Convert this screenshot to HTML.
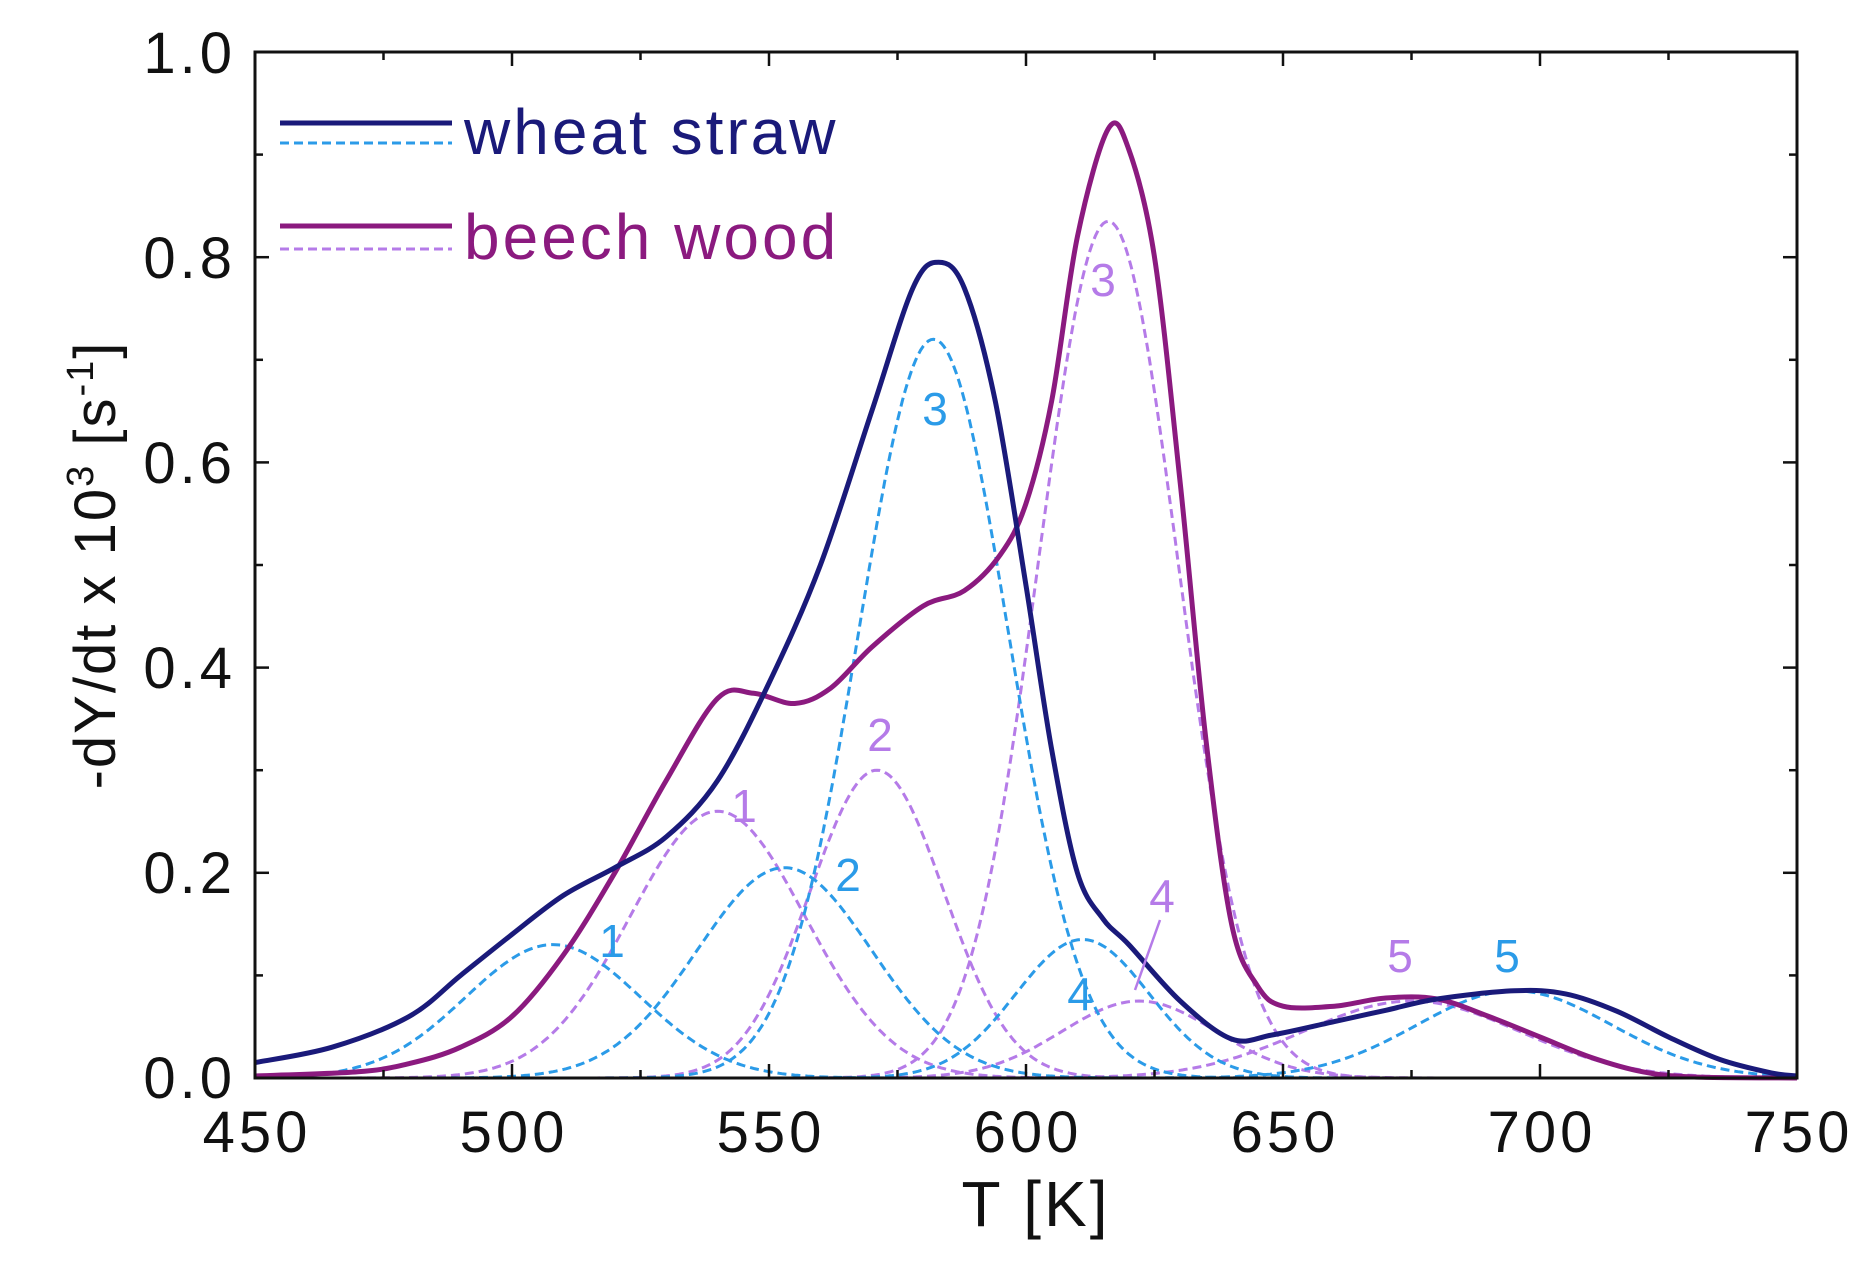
<!DOCTYPE html>
<html><head><meta charset="utf-8"><style>
html,body{margin:0;padding:0;background:#fff;}
svg text{font-family:"Liberation Sans",sans-serif;}
</style></head><body>
<svg id="s" width="1868" height="1258" viewBox="0 0 1868 1258" xmlns="http://www.w3.org/2000/svg">
<rect width="1868" height="1258" fill="#fff"/>
<g id="curves"></g>
<rect x="255" y="52" width="1542" height="1026" fill="none" stroke="#111" stroke-width="3"/>
<g id="ticks" stroke="#111" stroke-width="2.5"></g>
<g font-size="58" fill="#111" text-anchor="end" letter-spacing="4">
<text x="236" y="1098">0.0</text><text x="236" y="893">0.2</text><text x="236" y="688">0.4</text><text x="236" y="483">0.6</text><text x="236" y="278">0.8</text><text x="236" y="73">1.0</text>
</g>
<g font-size="58" fill="#111" text-anchor="middle" letter-spacing="4">
<text x="257" y="1152">450</text><text x="514" y="1152">500</text><text x="771" y="1152">550</text><text x="1028" y="1152">600</text><text x="1285" y="1152">650</text><text x="1542" y="1152">700</text><text x="1799" y="1152">750</text>
</g>
<text x="1036" y="1226" font-size="64" text-anchor="middle" fill="#111" letter-spacing="3">T [K]</text>
<text transform="translate(115,565) rotate(-90)" font-size="58" text-anchor="middle" fill="#111" letter-spacing="2">-dY/dt x 10<tspan dy="-22" font-size="38">3</tspan><tspan dy="22"> [s</tspan><tspan dy="-22" font-size="38">-1</tspan><tspan dy="22">]</tspan></text>
<line x1="280" y1="123" x2="452" y2="123" stroke="#1a1a7a" stroke-width="5"/>
<line x1="280" y1="143" x2="452" y2="143" stroke="#2b9be8" stroke-width="3" stroke-dasharray="9,5"/>
<text x="464" y="154" font-size="64" fill="#1a1a7a" letter-spacing="3">wheat straw</text>
<line x1="280" y1="226" x2="452" y2="226" stroke="#8b1a7f" stroke-width="5"/>
<line x1="280" y1="249" x2="452" y2="249" stroke="#b57be8" stroke-width="3" stroke-dasharray="9,5"/>
<text x="464" y="259" font-size="64" fill="#8b1a7f" letter-spacing="3">beech wood</text>
<g font-size="46" text-anchor="middle" fill="#2b9be8">
<text x="612" y="957">1</text><text x="848" y="891">2</text><text x="935" y="425">3</text><text x="1080" y="1010">4</text><text x="1507" y="972">5</text>
</g>
<g font-size="46" text-anchor="middle" fill="#b57be8">
<text x="744" y="822">1</text><text x="880" y="751">2</text><text x="1103" y="296">3</text><text x="1162" y="912">4</text><text x="1400" y="972">5</text>
</g>
<line x1="1160" y1="920" x2="1135" y2="990" stroke="#b57be8" stroke-width="2.5"/>
</svg>
<script>
var X=function(t){return 255+(t-450)*1542/300},Y=function(v){return 1078-v*1026};
function g(a,m,s){return function(t){return a*Math.exp(-(t-m)*(t-m)/(2*s*s));}}
var W=[g(0.13,508,17),g(0.205,553,17),g(0.72,582,14.5),g(0.135,611,13),g(0.085,695,19)];
var B=[g(0.26,540,17),g(0.30,571,13),g(0.835,616,13.5),g(0.075,622,15),g(0.075,675,21)];
var out="";
function path(f,col,w){var d="";for(var t=450;t<=750;t+=0.5){d+=(t==450?"M":"L")+X(t).toFixed(1)+","+Y(f(t)).toFixed(1);}
out+='<path d="'+d+'" fill="none" stroke="'+col+'" stroke-width="'+w+'" stroke-dasharray="9,5"/>';}
function spline(pts,col,w){var P=pts.map(function(p){return [X(p[0]),Y(p[1])]});var d="M"+P[0][0]+","+P[0][1];
for(var i=0;i<P.length-1;i++){var p0=P[i-1]||P[i],p1=P[i],p2=P[i+1],p3=P[i+2]||P[i+1];
d+="C"+(p1[0]+(p2[0]-p0[0])/6).toFixed(1)+","+(p1[1]+(p2[1]-p0[1])/6).toFixed(1)+" "+(p2[0]-(p3[0]-p1[0])/6).toFixed(1)+","+(p2[1]-(p3[1]-p1[1])/6).toFixed(1)+" "+p2[0].toFixed(1)+","+p2[1].toFixed(1);}
out+='<path d="'+d+'" fill="none" stroke="'+col+'" stroke-width="'+w+'"/>';}
B.forEach(function(f){path(f,"#b57be8",3)});
W.forEach(function(f){path(f,"#2b9be8",3)});
spline([[450,0.002],[470,0.006],[480,0.014],[490,0.03],[500,0.06],[510,0.12],[520,0.2],[530,0.29],[540,0.37],[547,0.375],[555,0.365],[562,0.38],[570,0.42],[580,0.46],[588,0.475],[595,0.51],[600,0.56],[605,0.66],[610,0.82],[616,0.925],[620,0.905],[625,0.8],[630,0.58],[635,0.33],[640,0.15],[645,0.09],[650,0.07],[660,0.07],[670,0.078],[680,0.077],[690,0.06],[700,0.04],[710,0.02],[720,0.006],[730,0.001],[750,0]],"#8b1a7f",5);
spline([[450,0.015],[465,0.03],[480,0.06],[490,0.1],[500,0.14],[510,0.178],[520,0.205],[530,0.235],[540,0.29],[550,0.385],[560,0.5],[570,0.65],[578,0.77],[583,0.795],[588,0.77],[594,0.66],[600,0.48],[605,0.32],[610,0.2],[615,0.155],[620,0.13],[630,0.075],[640,0.038],[648,0.042],[660,0.055],[670,0.066],[680,0.077],[695,0.085],[705,0.082],[715,0.065],[725,0.04],[735,0.018],[745,0.005],[750,0.002]],"#1a1a7a",5);
document.getElementById("curves").innerHTML=out;
var tk="";for(var t=450;t<=750;t+=25){var x=X(t),l=(t%50==0)?14:8;tk+='<line x1="'+x+'" y1="1078" x2="'+x+'" y2="'+(1078-l)+'"/><line x1="'+x+'" y1="52" x2="'+x+'" y2="'+(52+l)+'"/>';}
for(var v=0;v<=1.001;v+=0.1){var y=Y(v),l=(Math.round(v*10)%2==0)?14:8;tk+='<line x1="255" y1="'+y+'" x2="'+(255+l)+'" y2="'+y+'"/><line x1="1797" y1="'+y+'" x2="'+(1797-l)+'" y2="'+y+'"/>';}
document.getElementById("ticks").innerHTML=tk;
</script>
</body></html>
